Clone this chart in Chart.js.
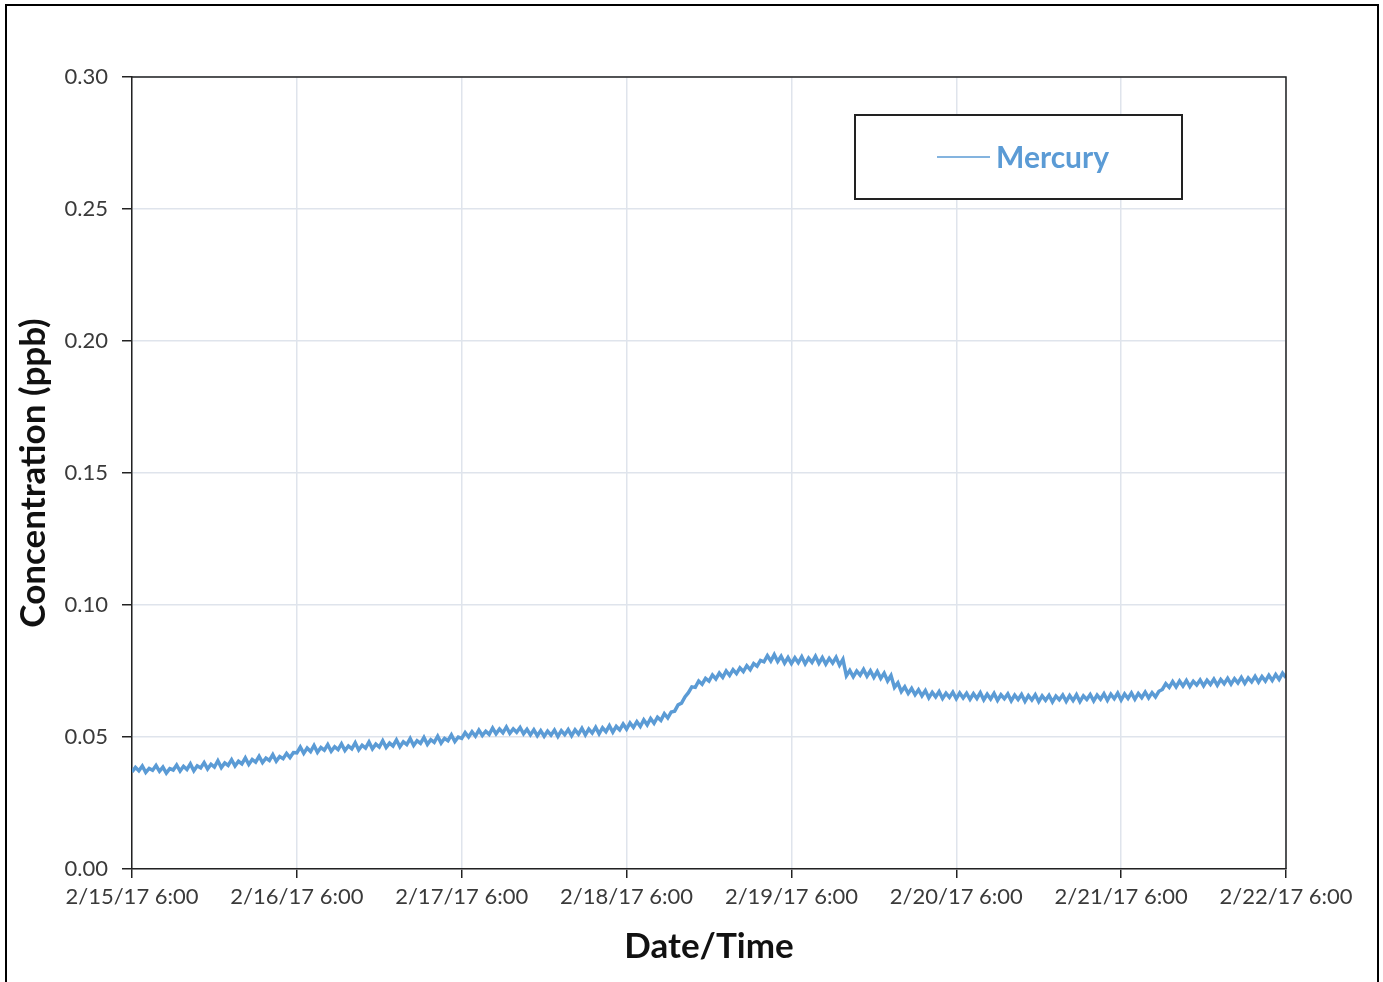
<!DOCTYPE html>
<html>
<head>
<meta charset="utf-8">
<script src="https://cdn.jsdelivr.net/npm/chart.js@4/dist/chart.umd.min.js"></script>
<style>
  html, body { margin: 0; padding: 0; background: #fff; }
  canvas { display: block; }
</style>
</head>
<body>
<canvas id="myChart" width="1383" height="982"></canvas>
<script>
// du lieu: Mercury, one reading every half hour from 2/15/17 6:00
const seriesName = 'Mercury';
const stepHours = 0.5;
const mercury = [
  // 2/15 6:00 - 2/16 5:30
  0.0368, 0.0385, 0.0372, 0.0390, 0.0366, 0.0381, 0.0374, 0.0392, 0.0370, 0.0386,
  0.0363, 0.0380, 0.0375, 0.0394, 0.0371, 0.0389, 0.0377, 0.0398, 0.0372, 0.0391,
  0.0383, 0.0403, 0.0379, 0.0397, 0.0386, 0.0410, 0.0384, 0.0402, 0.0392, 0.0414,
  0.0390, 0.0408, 0.0398, 0.0421, 0.0396, 0.0415, 0.0405, 0.0427, 0.0403, 0.0420,
  0.0411, 0.0433, 0.0408, 0.0426, 0.0418, 0.0438, 0.0422, 0.0441,
  // 2/16
  0.0440, 0.0462, 0.0438, 0.0458, 0.0445, 0.0468, 0.0442, 0.0460, 0.0450, 0.0471,
  0.0446, 0.0463, 0.0452, 0.0474, 0.0449, 0.0466, 0.0455, 0.0478, 0.0451, 0.0469,
  0.0458, 0.0481, 0.0455, 0.0473, 0.0462, 0.0486, 0.0460, 0.0477, 0.0466, 0.0489,
  0.0463, 0.0482, 0.0471, 0.0494, 0.0468, 0.0486, 0.0476, 0.0498, 0.0472, 0.0490,
  0.0480, 0.0503, 0.0477, 0.0495, 0.0486, 0.0508, 0.0483, 0.0500,
  // 2/17
  0.0495, 0.0517, 0.0500, 0.0520, 0.0503, 0.0526, 0.0506, 0.0522,
  0.0510, 0.0534, 0.0512, 0.0530, 0.0516, 0.0538, 0.0514, 0.0531,
  0.0518, 0.0536, 0.0512, 0.0529, 0.0508, 0.0527, 0.0505, 0.0524,
  0.0503, 0.0522, 0.0507, 0.0526, 0.0502, 0.0524, 0.0509, 0.0528,
  0.0505, 0.0527, 0.0511, 0.0533, 0.0508, 0.0530, 0.0515, 0.0537,
  0.0512, 0.0535, 0.0520, 0.0543, 0.0518, 0.0540, 0.0527, 0.0549,
  // 2/18
  0.0530, 0.0553, 0.0536, 0.0558, 0.0540, 0.0565, 0.0546, 0.0570,
  0.0552, 0.0575, 0.0563, 0.0588, 0.0572, 0.0595, 0.0598, 0.0622,
  0.0628, 0.0652, 0.0668, 0.0690, 0.0688, 0.0712, 0.0700, 0.0722,
  0.0712, 0.0735, 0.0720, 0.0742, 0.0726, 0.0750, 0.0733, 0.0755,
  0.0740, 0.0762, 0.0748, 0.0770, 0.0755, 0.0778, 0.0768, 0.0790,
  0.0785, 0.0808, 0.0788, 0.0812, 0.0786, 0.0806, 0.0780, 0.0801,
  // 2/19
  0.0778, 0.0800, 0.0781, 0.0804, 0.0777, 0.0799, 0.0783, 0.0806,
  0.0779, 0.0801, 0.0776, 0.0798, 0.0780, 0.0802, 0.0772, 0.0794,
  0.0732, 0.0752, 0.0728, 0.0750, 0.0734, 0.0756, 0.0730, 0.0751,
  0.0726, 0.0748, 0.0722, 0.0742, 0.0712, 0.0733, 0.0688, 0.0705,
  0.0672, 0.0690, 0.0665, 0.0684, 0.0660, 0.0679, 0.0656, 0.0676,
  0.0648, 0.0669, 0.0652, 0.0672, 0.0646, 0.0666, 0.0650, 0.0670,
  // 2/20
  0.0645, 0.0667, 0.0648, 0.0666, 0.0643, 0.0664, 0.0646, 0.0668,
  0.0641, 0.0662, 0.0644, 0.0665, 0.0639, 0.0660, 0.0645, 0.0663,
  0.0637, 0.0659, 0.0642, 0.0661, 0.0635, 0.0657, 0.0640, 0.0660,
  0.0634, 0.0656, 0.0639, 0.0658, 0.0633, 0.0655, 0.0641, 0.0659,
  0.0635, 0.0657, 0.0638, 0.0660, 0.0634, 0.0656, 0.0642, 0.0661,
  0.0637, 0.0659, 0.0643, 0.0664, 0.0639, 0.0662, 0.0645, 0.0666,
  // 2/21 - 2/22 6:00
  0.0640, 0.0663, 0.0646, 0.0667, 0.0643, 0.0665, 0.0649, 0.0670,
  0.0648, 0.0668, 0.0652, 0.0673, 0.0680, 0.0702, 0.0688, 0.0710,
  0.0690, 0.0712, 0.0693, 0.0714, 0.0691, 0.0711, 0.0697, 0.0716,
  0.0694, 0.0715, 0.0699, 0.0719, 0.0696, 0.0718, 0.0702, 0.0722,
  0.0700, 0.0721, 0.0705, 0.0726, 0.0703, 0.0724, 0.0709, 0.0730,
  0.0708, 0.0729, 0.0712, 0.0734, 0.0714, 0.0737, 0.0718, 0.0742,
  0.0725
];
const xTickLabels = [
  '2/15/17 6:00', '2/16/17 6:00', '2/17/17 6:00', '2/18/17 6:00',
  '2/19/17 6:00', '2/20/17 6:00', '2/21/17 6:00', '2/22/17 6:00'
];
const yTicks = [0, 0.05, 0.10, 0.15, 0.20, 0.25, 0.30];

const blue = '#5b9bd5';
const fontFam = 'Lato, "Open Sans", sans-serif';

const points = mercury.map((v, i) => ({ x: i * stepHours, y: v }));

// nen trang + khung ngoai + khung vung ve
const framePlugin = {
  id: 'frame',
  beforeDraw(chart) {
    const ctx = chart.ctx;
    ctx.save();
    ctx.fillStyle = '#fff';
    ctx.fillRect(0, 0, chart.width, chart.height);
    ctx.strokeStyle = '#000';
    ctx.lineWidth = 2;
    ctx.strokeRect(6, 5, chart.width - 11, chart.height + 20);
    ctx.restore();
  },
  afterDatasetsDraw(chart) {
    const a = chart.chartArea;
    const ctx = chart.ctx;
    ctx.save();
    ctx.strokeStyle = '#222';
    ctx.lineWidth = 1.5;
    ctx.beginPath();
    ctx.moveTo(a.left, a.top);
    ctx.lineTo(a.right, a.top);
    ctx.lineTo(a.right, a.bottom);
    ctx.stroke();
    ctx.restore();
  }
};

// chu thich dang hop
const legendBox = {
  id: 'legendBox',
  afterDraw(chart) {
    const a = chart.chartArea;
    const ctx = chart.ctx;
    const ds = chart.data.datasets[0];
    const x0 = a.left + 723, y0 = a.top + 38, w = 327, h = 84;
    ctx.save();
    ctx.fillStyle = '#fff';
    ctx.fillRect(x0, y0, w, h);
    ctx.strokeStyle = '#222';
    ctx.lineWidth = 2;
    ctx.strokeRect(x0, y0, w, h);
    const cy = y0 + h / 2;
    ctx.strokeStyle = ds.borderColor;
    ctx.lineWidth = 1.5;
    ctx.beginPath();
    ctx.moveTo(x0 + 82, cy);
    ctx.lineTo(x0 + 135, cy);
    ctx.stroke();
    ctx.fillStyle = ds.borderColor;
    ctx.font = 'bold 30px ' + fontFam;
    ctx.textBaseline = 'middle';
    ctx.fillText(ds.label, x0 + 141, cy + 1);
    ctx.restore();
  }
};

const config = {
  type: 'line',
  data: {
    datasets: [{
      label: seriesName,
      data: points,
      borderColor: blue,
      borderWidth: 3.5,
      pointRadius: 0,
      tension: 0,
      fill: false
    }]
  },
  options: {
    responsive: false,
    animation: false,
    parsing: false,
    layout: { padding: { left: 0, top: 77, right: 97, bottom: 0 } },
    plugins: {
      legend: { display: false },
      tooltip: { enabled: false }
    },
    scales: {
      x: {
        type: 'linear',
        min: 0,
        max: 168,
        afterFit: s => { s.height = 113; },
        afterBuildTicks: s => { s.ticks = xTickLabels.map((t, i) => ({ value: i * 24 })); },
        ticks: {
          autoSkip: false,
          maxRotation: 0,
          padding: 6,
          color: '#3a3a3a',
          font: { family: fontFam, size: 22 },
          callback: v => xTickLabels[Math.round(v / 24)]
        },
        grid: { color: '#dfe4ec', lineWidth: 1.5, tickColor: '#222', tickLength: 9 },
        border: { color: '#222', width: 1.5 },
        title: {
          display: true,
          text: 'Date/Time',
          color: '#111',
          font: { family: fontFam, size: 35, weight: 'bold' },
          padding: { top: 0, bottom: 14 }
        }
      },
      y: {
        min: 0,
        max: 0.3,
        afterFit: s => { s.width = 132; },
        afterBuildTicks: s => { s.ticks = yTicks.map(v => ({ value: v })); },
        ticks: {
          padding: 14,
          color: '#3a3a3a',
          font: { family: fontFam, size: 22 },
          callback: v => v.toFixed(2)
        },
        grid: { color: '#dfe4ec', lineWidth: 1.5, tickColor: '#222', tickLength: 10 },
        border: { color: '#222', width: 1.5 },
        title: {
          display: true,
          text: 'Concentration (ppb)',
          color: '#111',
          font: { family: fontFam, size: 35, weight: 'bold' },
          padding: { top: 13, bottom: 0 }
        }
      }
    }
  },
  plugins: [framePlugin, legendBox]
};

const myChart = new Chart(document.getElementById('myChart'), config);
</script>
</body>
</html>
